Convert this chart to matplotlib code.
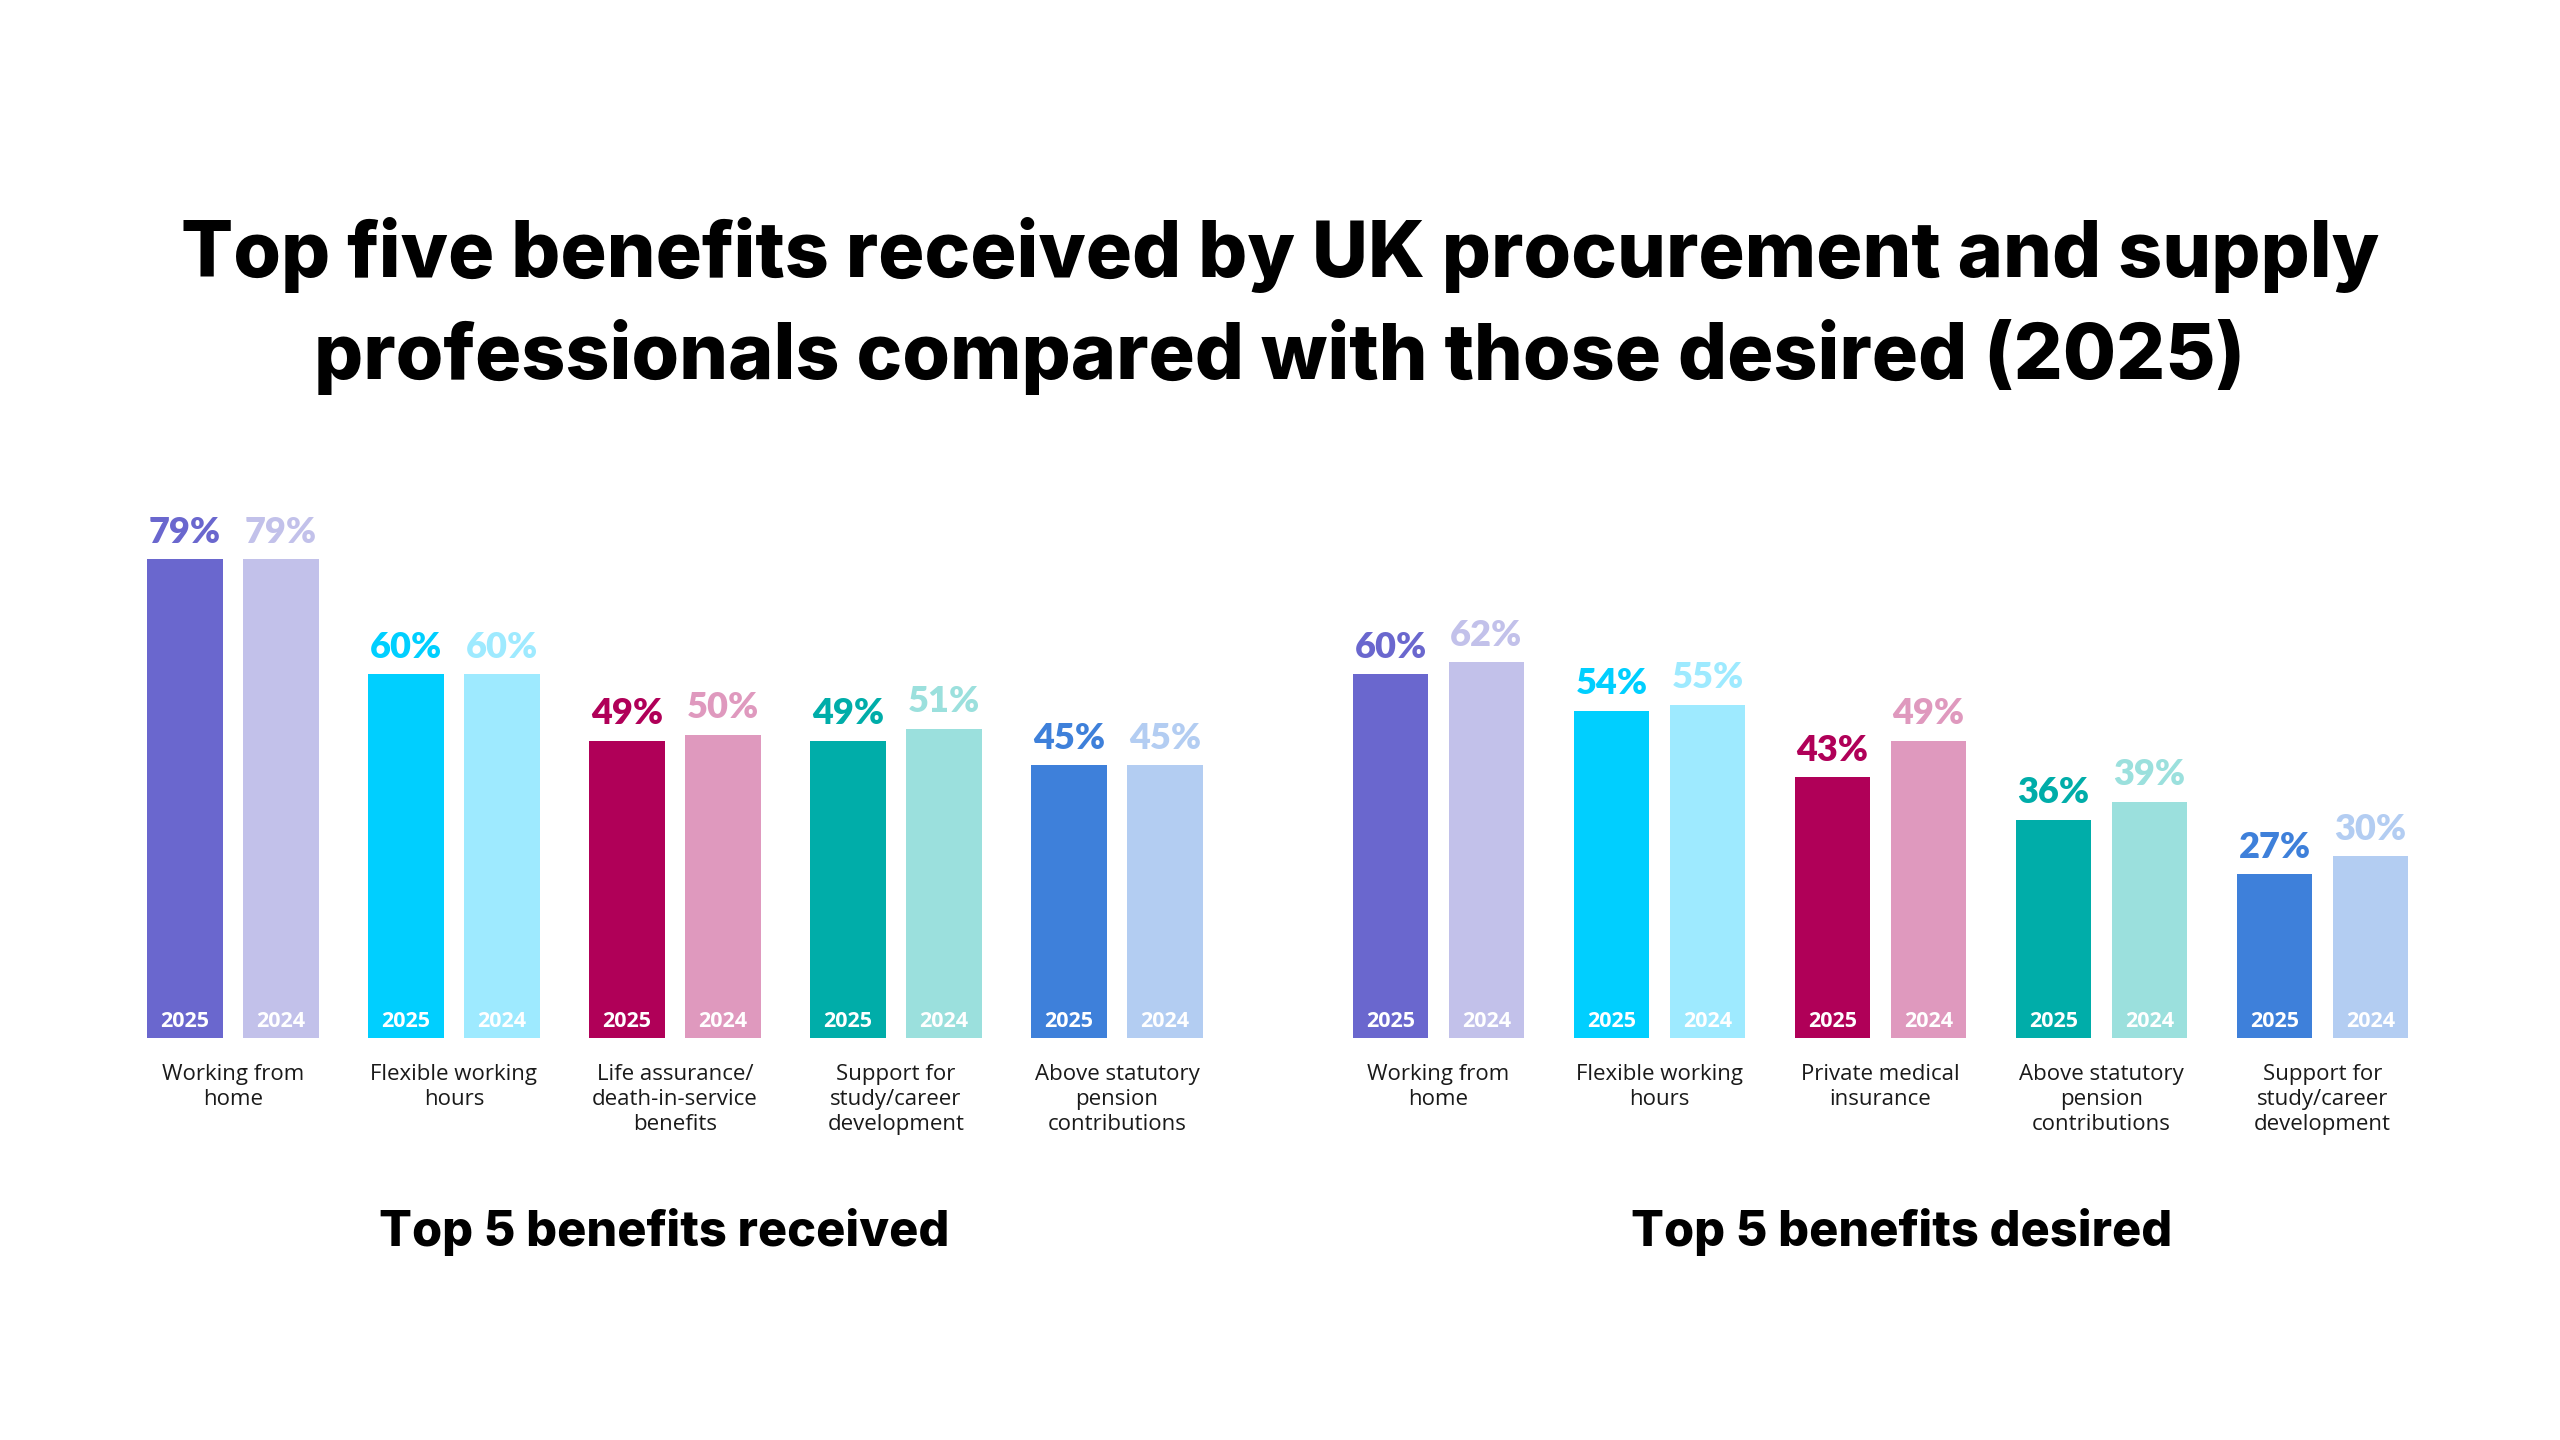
import matplotlib
matplotlib.use("Agg")
import matplotlib.pyplot as plt
import numpy as np

# data
received_labels = ["Working from\nhome", "Flexible working\nhours",
                   "Life assurance/\ndeath-in-service\nbenefits",
                   "Support for\nstudy/career\ndevelopment",
                   "Above statutory\npension\ncontributions"]
received_2025 = [79, 60, 49, 49, 45]
received_2024 = [79, 60, 50, 51, 45]

desired_labels = ["Working from\nhome", "Flexible working\nhours",
                  "Private medical\ninsurance",
                  "Above statutory\npension\ncontributions",
                  "Support for\nstudy/career\ndevelopment"]
desired_2025 = [60, 54, 43, 36, 27]
desired_2024 = [62, 55, 49, 39, 30]

years = ["2025", "2024"]

# colours: (2025, 2024) per benefit
palette = {
    "Working from\nhome": ("#6A67CE", "#C2C1EA"),
    "Flexible working\nhours": ("#00CFFF", "#9EEAFF"),
    "Life assurance/\ndeath-in-service\nbenefits": ("#B00058", "#DF99BE"),
    "Private medical\ninsurance": ("#B00058", "#DF99BE"),
    "Support for\nstudy/career\ndevelopment": ("#00ADA9", "#9BE0DD"),
    "Above statutory\npension\ncontributions": ("#3E80DA", "#B3CDF2"),
}
# the desired panel swaps colours for the last two groups
desired_palette = {
    "Above statutory\npension\ncontributions": ("#00ADA9", "#9BE0DD"),
    "Support for\nstudy/career\ndevelopment": ("#3E80DA", "#B3CDF2"),
}

TITLE_FONT = ["Inter", "DejaVu Sans"]
NUM_FONT = ["Lato", "DejaVu Sans"]
BODY_FONT = ["Open Sans", "DejaVu Sans"]

W, H = 2560, 1440
fig = plt.figure(figsize=(W / 100, H / 100), dpi=100)
fig.patch.set_facecolor("white")

fig.text(0.5, 1 - 277 / H,
         "Top five benefits received by UK procurement and supply",
         ha="center", va="baseline", fontsize=55.5, fontweight="heavy",
         family=TITLE_FONT, color="black")
fig.text(0.5, 1 - 379 / H,
         "professionals compared with those desired (2025)",
         ha="center", va="baseline", fontsize=55.5, fontweight="heavy",
         family=TITLE_FONT, color="black")

bar_w = 0.342
offset = 0.217
ax_bottom = 1 - 1038 / H
ax_height = 606 / H


def draw_panel(left_px, labels, v25, v24, colours, subtitle, sub_dx):
    ax = fig.add_axes([left_px / W, ax_bottom, 1105 / W, ax_height])
    ax.set_xlim(-0.5, 4.5)
    ax.set_ylim(0, 100)
    ax.axis("off")
    x = np.arange(len(labels))
    for i, lab in enumerate(labels):
        c25, c24 = colours(lab)
        for val, xx, col, yr in ((v25[i], x[i] - offset, c25, years[0]),
                                 (v24[i], x[i] + offset, c24, years[1])):
            ax.bar(xx, val, width=bar_w, color=col, linewidth=0)
            ax.annotate(f"{val}%", (xx, val), xytext=(0, 12),
                        textcoords="offset points", ha="center",
                        va="baseline", fontsize=26, fontweight="heavy",
                        family=NUM_FONT, color=col)
            ax.annotate(yr, (xx, 0), xytext=(0, 8),
                        textcoords="offset points", ha="center",
                        va="baseline", fontsize=15.5, fontweight="bold",
                        family=BODY_FONT, color="white")
        ax.annotate(lab, (x[i], 0), xytext=(0, -18.5),
                    textcoords="offset points", ha="center",
                    va="top", multialignment="center", fontsize=16,
                    family=BODY_FONT, color="#1a1a1a", linespacing=1.25,
                    annotation_clip=False)
    ax.annotate(subtitle, (2, 0), xytext=(sub_dx, -150),
                textcoords="offset points", ha="center", va="baseline",
                fontsize=35, fontweight="heavy", family=TITLE_FONT,
                color="black", annotation_clip=False)
    return ax


draw_panel(122.5, received_labels, received_2025, received_2024,
           lambda l: palette[l], "Top 5 benefits received", -8)
draw_panel(1328, desired_labels, desired_2025, desired_2024,
           lambda l: desired_palette.get(l, palette[l]),
           "Top 5 benefits desired", 15)

fig.savefig("out.png", dpi=100, facecolor="white")
